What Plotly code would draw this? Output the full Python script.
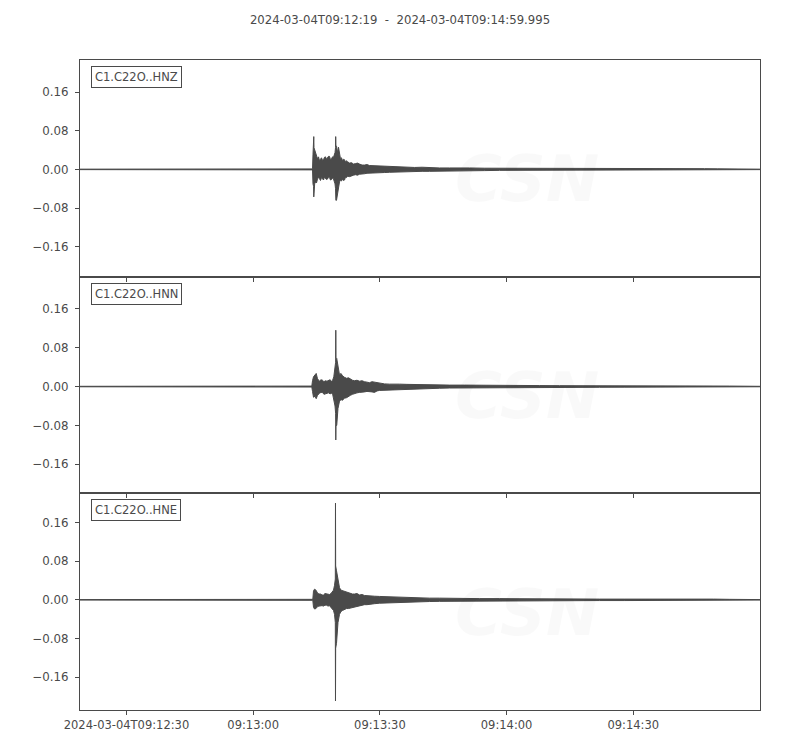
import plotly.graph_objects as go
from plotly.subplots import make_subplots

# ---- data (seconds after 2024-03-04T09:12:19, envelope amplitude) ----
title_text = "2024-03-04T09:12:19  -  2024-03-04T09:14:59.995"
channels = ["C1.C22O..HNZ", "C1.C22O..HNN", "C1.C22O..HNE"]

z_t = [0, 55.05, 55.16, 55.30, 55.35, 55.40, 55.56, 55.76, 55.99, 56.23, 56.47, 56.70, 56.94, 57.18,
       57.41, 57.65, 57.88, 58.12, 58.36, 58.60, 58.83, 59.07, 59.31, 59.55, 59.78, 60.02, 60.38,
       60.50, 60.54, 60.58, 60.73, 60.97, 61.20, 61.44, 61.67, 61.91, 62.15, 62.38, 62.63, 62.86,
       63.10, 63.34, 63.81, 64.28, 64.75, 65.23, 65.70, 66.18, 66.78, 67.36, 67.95, 68.55, 69.73,
       70.91, 72.10, 73.28, 74.46, 75.65, 77.40, 79.20, 81.00, 82.75, 85.10, 87.49, 89.90, 92.23,
       95.80, 99.32, 105.2, 111.16, 117.1, 123.0, 129.0, 134.84, 138.0, 140.76, 142.5, 144.30,
       147.85, 151.0, 154.47, 160.995]
z_up = [0.0005, 0.001, 0.030, 0.045, 0.068, 0.045, 0.040, 0.035, 0.028, 0.022, 0.026, 0.018, 0.021,
        0.024, 0.019, 0.020, 0.025, 0.026, 0.021, 0.024, 0.027, 0.027, 0.020, 0.022, 0.026, 0.025,
        0.035, 0.045, 0.068, 0.050, 0.048, 0.035, 0.046, 0.030, 0.022, 0.024, 0.018, 0.021, 0.020,
        0.015, 0.018, 0.016, 0.013, 0.014, 0.011, 0.012, 0.013, 0.011, 0.009, 0.009, 0.010, 0.008,
        0.0075, 0.007, 0.006, 0.006, 0.0055, 0.005, 0.0045, 0.004, 0.0045, 0.0035, 0.003, 0.003,
        0.0035, 0.003, 0.0025, 0.0025, 0.002, 0.002, 0.0018, 0.0018, 0.0015, 0.0015, 0.0015, 0.003,
        0.0025, 0.002, 0.0015, 0.0012, 0.001, 0.0005]
z_lo = [-0.0005, -0.001, -0.030, -0.035, -0.057, -0.035, -0.030, -0.026, -0.028, -0.020, -0.017,
        -0.019, -0.023, -0.017, -0.020, -0.022, -0.016, -0.018, -0.021, -0.020, -0.016, -0.017,
        -0.022, -0.021, -0.018, -0.020, -0.030, -0.040, -0.062, -0.064, -0.064, -0.050, -0.030,
        -0.026, -0.022, -0.024, -0.020, -0.023, -0.022, -0.016, -0.017, -0.014, -0.015, -0.013,
        -0.012, -0.011, -0.012, -0.010, -0.010, -0.009, -0.008, -0.008, -0.0075, -0.007, -0.0065,
        -0.006, -0.0055, -0.005, -0.005, -0.0045, -0.004, -0.004, -0.0035, -0.003, -0.003, -0.0025,
        -0.0025, -0.002, -0.002, -0.002, -0.0018, -0.0015, -0.0015, -0.0015, -0.0015, -0.002,
        -0.002, -0.002, -0.0015, -0.0012, -0.001, -0.0005]

n_t = [0, 54.88, 55.05, 55.28, 55.64, 55.92, 56.23, 56.47, 56.70, 57.05, 57.41, 57.76, 58.12, 58.47,
       58.83, 59.19, 59.55, 59.82, 60.09, 60.38, 60.52, 60.56, 60.60, 60.78, 61.08, 61.44, 61.80,
       62.15, 62.62, 63.10, 63.57, 64.04, 64.51, 64.99, 65.58, 66.18, 66.77, 67.36, 67.95, 68.55,
       69.14, 69.73, 70.32, 70.91, 72.10, 73.28, 74.46, 75.65, 77.40, 79.20, 81.00, 82.75, 85.10,
       87.49, 91.00, 94.59, 99.30, 104.06, 108.8, 113.53, 118.3, 123.0, 129.0, 134.84, 138.0,
       140.76, 143.7, 146.68, 150.70, 153.80, 160.995]
n_up = [0.0005, 0.001, 0.012, 0.020, 0.024, 0.027, 0.016, 0.013, 0.011, 0.014, 0.013, 0.010, 0.012,
        0.011, 0.012, 0.014, 0.011, 0.013, 0.020, 0.035, 0.050, 0.116, 0.060, 0.058, 0.040, 0.024,
        0.027, 0.022, 0.019, 0.017, 0.018, 0.015, 0.013, 0.012, 0.013, 0.011, 0.012, 0.010, 0.009,
        0.008, 0.010, 0.009, 0.007, 0.006, 0.0055, 0.005, 0.0055, 0.005, 0.0045, 0.004, 0.004,
        0.0035, 0.0035, 0.003, 0.003, 0.0025, 0.0025, 0.002, 0.002, 0.0018, 0.0018, 0.0015, 0.0013,
        0.0012, 0.0015, 0.0025, 0.002, 0.002, 0.0015, 0.001, 0.0005]
n_lo = [-0.0005, -0.001, -0.010, -0.022, -0.020, -0.025, -0.018, -0.015, -0.014, -0.012, -0.012,
        -0.016, -0.015, -0.013, -0.013, -0.015, -0.014, -0.016, -0.025, -0.040, -0.055, -0.110,
        -0.080, -0.080, -0.045, -0.030, -0.027, -0.028, -0.024, -0.023, -0.020, -0.018, -0.016,
        -0.014, -0.013, -0.012, -0.012, -0.011, -0.010, -0.010, -0.011, -0.012, -0.009, -0.008,
        -0.0075, -0.007, -0.0065, -0.006, -0.0055, -0.005, -0.0045, -0.004, -0.0035, -0.003,
        -0.003, -0.0025, -0.0022, -0.002, -0.002, -0.0018, -0.0016, -0.0015, -0.0013, -0.0012,
        -0.0012, -0.002, -0.0018, -0.0015, -0.001, -0.001, -0.0005]

e_t = [0, 55.12, 55.28, 55.52, 55.87, 56.23, 56.58, 56.94, 57.30, 57.65, 58.00, 58.36, 58.72, 59.07,
       59.42, 59.78, 60.02, 60.26, 60.45, 60.49, 60.53, 60.73, 61.08, 61.44, 61.80, 62.15, 62.62,
       63.10, 63.57, 64.04, 64.51, 64.99, 65.58, 66.18, 66.77, 67.36, 67.95, 68.55, 69.73, 70.91,
       72.10, 73.28, 74.46, 75.65, 77.40, 79.20, 81.00, 82.75, 85.10, 87.49, 91.00, 94.59, 99.30,
       104.06, 108.8, 113.53, 118.3, 123.0, 129.0, 134.84, 138.5, 141.47, 144.0, 146.68, 150.0,
       153.80, 160.995]
e_up = [0.0005, 0.001, 0.018, 0.022, 0.020, 0.014, 0.012, 0.012, 0.010, 0.010, 0.013, 0.012, 0.011,
        0.011, 0.013, 0.016, 0.020, 0.030, 0.043, 0.200, 0.070, 0.060, 0.043, 0.025, 0.020, 0.019,
        0.017, 0.016, 0.015, 0.014, 0.012, 0.012, 0.013, 0.010, 0.011, 0.009, 0.009, 0.008, 0.0075,
        0.007, 0.0065, 0.006, 0.0055, 0.005, 0.0045, 0.004, 0.004, 0.0035, 0.0035, 0.003, 0.003,
        0.0025, 0.0025, 0.002, 0.002, 0.0018, 0.0017, 0.0015, 0.0015, 0.0015, 0.0018, 0.003, 0.0025,
        0.002, 0.0015, 0.001, 0.0005]
e_lo = [-0.0005, -0.001, -0.015, -0.019, -0.018, -0.014, -0.013, -0.012, -0.012, -0.013, -0.011,
        -0.011, -0.013, -0.012, -0.015, -0.018, -0.022, -0.030, -0.047, -0.209, -0.100, -0.090,
        -0.047, -0.030, -0.024, -0.022, -0.020, -0.018, -0.018, -0.017, -0.016, -0.015, -0.013,
        -0.012, -0.011, -0.010, -0.010, -0.009, -0.008, -0.007, -0.0065, -0.006, -0.0055, -0.005,
        -0.0045, -0.004, -0.0038, -0.0035, -0.0032, -0.003, -0.0028, -0.0025, -0.0022, -0.002,
        -0.002, -0.0018, -0.0016, -0.0015, -0.0015, -0.0015, -0.0015, -0.002, -0.002, -0.0015,
        -0.0012, -0.001, -0.0005]

y_ranges = [[-0.2223, 0.2267], [-0.2198, 0.2262], [-0.2278, 0.2202]]
y_ticks = [-0.16, -0.08, 0.0, 0.08, 0.16]
x_ticks = [11, 41, 71, 101, 131]
x_ticklabels = ["2024-03-04T09:12:30", "09:13:00", "09:13:30", "09:14:00", "09:14:30"]
x_range = [0, 160.995]

# ---- figure ----
INK = "#4a4a4a"
FONT = "DejaVu Sans"
FIG_W, FIG_H = 792, 742   # page body adds an 8px margin
fig = make_subplots(rows=3, cols=1, shared_xaxes=True, vertical_spacing=0)

series = [(z_t, z_up, z_lo), (n_t, n_up, n_lo), (e_t, e_up, e_lo)]
for i, (t, up, lo) in enumerate(series, start=1):
    fig.add_trace(go.Scatter(x=t, y=up, mode="lines", line=dict(color=INK, width=1),
                             hoverinfo="skip", showlegend=False), row=i, col=1)
    fig.add_trace(go.Scatter(x=t, y=lo, mode="lines", line=dict(color=INK, width=1),
                             fill="tonexty", fillcolor=INK, hoverinfo="skip",
                             showlegend=False), row=i, col=1)
    xr = "x" if i == 1 else f"x{i}"
    yr = "y" if i == 1 else f"y{i}"
    # faint watermark
    fig.add_annotation(text="<b><i>CSN</i></b>", xref=f"{xr} domain", yref=f"{yr} domain",
                       x=0.657, y=0.45, xanchor="center", yanchor="middle", showarrow=False,
                       font=dict(family=FONT, size=64, color="rgba(0,0,0,0.022)"))
    fig.add_annotation(text="<i>CENTRO SISMOLÓGICO NACIONAL<br>UNIVERSIDAD DE CHILE</i>",
                       xref=f"{xr} domain", yref=f"{yr} domain",
                       x=0.665, y=0.207, xanchor="left", yanchor="middle", align="left",
                       showarrow=False,
                       font=dict(family="Liberation Sans Narrow, Liberation Sans", size=14,
                                 color="rgba(0,0,0,0.022)"))
    # station label box
    fig.add_annotation(text=channels[i - 1], xref=f"{xr} domain", yref=f"{yr} domain",
                       x=0.016, y=0.972, xanchor="left", yanchor="top",
                       showarrow=False, font=dict(family=FONT, size=11.5, color=INK),
                       bordercolor=INK, borderwidth=1, borderpad=3, bgcolor="white")
    fig.update_yaxes(range=y_ranges[i - 1], tickvals=y_ticks, tickformat=".2f", row=i, col=1)

fig.update_yaxes(showgrid=False, zeroline=False, showline=True, linecolor=INK, linewidth=1,
                 mirror=True, ticks="outside", ticklen=4, tickcolor=INK, ticklabelstandoff=4,
                 tickfont=dict(family=FONT, size=11.8, color=INK))
fig.update_xaxes(range=x_range, tickvals=x_ticks, ticktext=x_ticklabels, showgrid=False,
                 zeroline=False, showline=True, linecolor=INK, linewidth=1, mirror=True,
                 ticks="outside", ticklen=4, tickcolor=INK,
                 tickfont=dict(family=FONT, size=11.5, color=INK))

fig.update_layout(
    width=FIG_W, height=FIG_H,
    margin=dict(l=72, r=40, t=52, b=40),
    paper_bgcolor="white", plot_bgcolor="white",
    title=dict(text=title_text, x=(400 - 8) / FIG_W, xanchor="center", y=1 - 12 / FIG_H,
               yanchor="middle", font=dict(family=FONT, size=11.7, color=INK)),
    showlegend=False,
)

fig.write_html("out.html")
